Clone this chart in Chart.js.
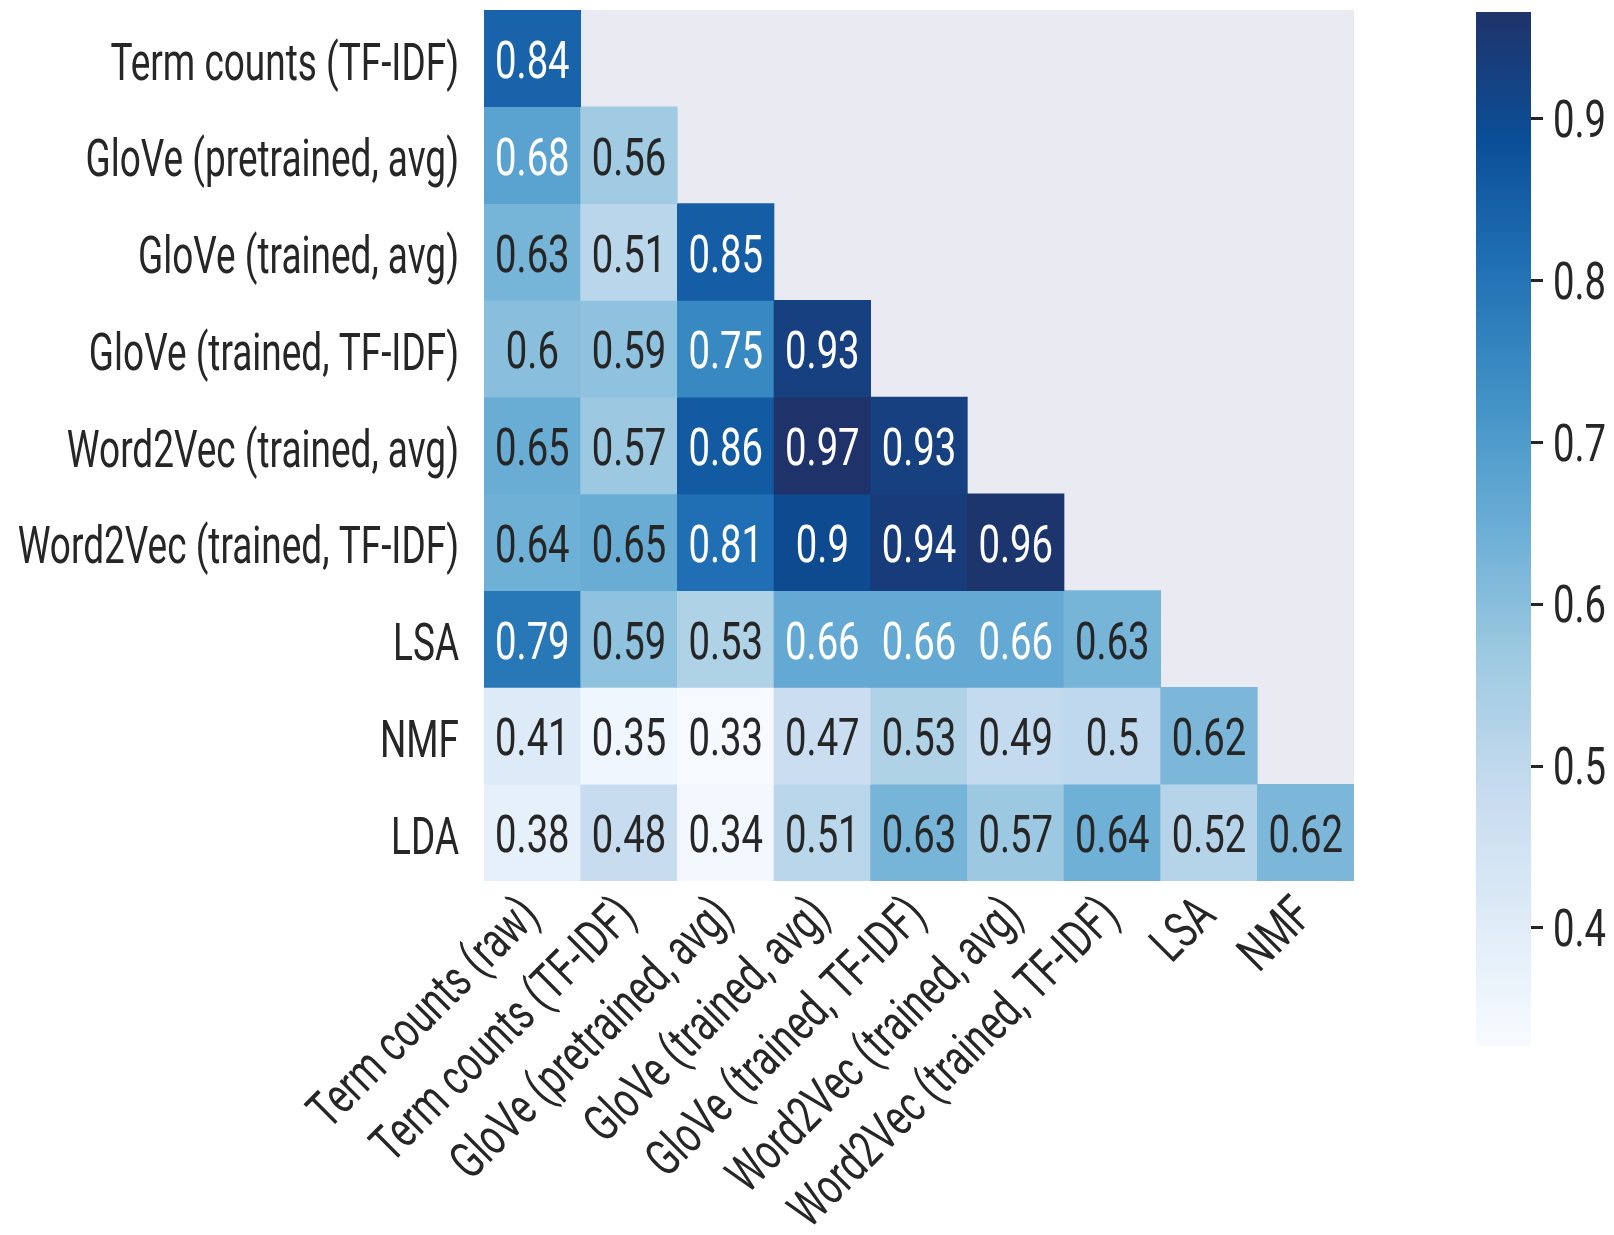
<!DOCTYPE html>
<html>
<head>
<meta charset="utf-8">
<script src="https://cdn.jsdelivr.net/npm/chart.js@4.4.1/dist/chart.umd.min.js"></script>
<style>
  html, body { margin: 0; padding: 0; background: #ffffff; width: 1614px; height: 1235px; overflow: hidden; }
  #heat { position: absolute; left: 0; top: 0; }
  #cbar { position: absolute; left: 1440px; top: 0; }
</style>
</head>
<body>
<canvas id="heat" width="1614" height="1235"></canvas>
<canvas id="cbar" width="174" height="1235"></canvas>
<script>
// Pairwise agreement between document representations (lower triangle).
const columnLabels = [
  'Term counts (raw)', 'Term counts (TF-IDF)', 'GloVe (pretrained, avg)',
  'GloVe (trained, avg)', 'GloVe (trained, TF-IDF)', 'Word2Vec (trained, avg)',
  'Word2Vec (trained, TF-IDF)', 'LSA', 'NMF'
];
const rowLabels = [
  'Term counts (TF-IDF)', 'GloVe (pretrained, avg)', 'GloVe (trained, avg)',
  'GloVe (trained, TF-IDF)', 'Word2Vec (trained, avg)', 'Word2Vec (trained, TF-IDF)',
  'LSA', 'NMF', 'LDA'
];
const rowTermTfidf   = [0.84];
const rowGlovePre    = [0.68, 0.56];
const rowGloveAvg    = [0.63, 0.51, 0.85];
const rowGloveTfidf  = [0.6, 0.59, 0.75, 0.93];
const rowW2vAvg      = [0.65, 0.57, 0.86, 0.97, 0.93];
const rowW2vTfidf    = [0.64, 0.65, 0.81, 0.9, 0.94, 0.96];
const rowLsa         = [0.79, 0.59, 0.53, 0.66, 0.66, 0.66, 0.63];
const rowNmf         = [0.41, 0.35, 0.33, 0.47, 0.53, 0.49, 0.5, 0.62];
const rowLda         = [0.38, 0.48, 0.34, 0.51, 0.63, 0.57, 0.64, 0.52, 0.62];
const matrixRows = [rowTermTfidf, rowGlovePre, rowGloveAvg, rowGloveTfidf,
                    rowW2vAvg, rowW2vTfidf, rowLsa, rowNmf, rowLda];
const colorbarTicks = [0.4, 0.5, 0.6, 0.7, 0.8, 0.9];
// Colour-scale limits (unrounded extremes of the matrix)
const colorLimits = [0.327, 0.966];

const [vMin, vMax] = colorLimits;

// Sequential blue colour map (light to dark)
const BLUES = ['#f7fbff', '#deebf7', '#c6dbef', '#9ecae1', '#6baed6',
               '#4292c6', '#2171b5', '#0b4f98', '#1f336a'];
const hexToRgb = h => [1, 3, 5].map(i => parseInt(h.slice(i, i + 2), 16));
const BLUES_RGB = BLUES.map(hexToRgb);

function colorRgb(v) {
  let t = (v - vMin) / (vMax - vMin);
  t = Math.max(0, Math.min(1, t));
  const pos = t * (BLUES_RGB.length - 1);
  const i = Math.min(Math.floor(pos), BLUES_RGB.length - 2);
  const f = pos - i;
  return BLUES_RGB[i].map((c, k) => Math.round(c + (BLUES_RGB[i + 1][k] - c) * f));
}
const colorFor = v => { const [r, g, b] = colorRgb(v); return `rgb(${r},${g},${b})`; };

function luminance([r, g, b]) {
  const lin = c => { c /= 255; return c <= 0.03928 ? c / 12.92 : Math.pow((c + 0.055) / 1.055, 2.4); };
  return 0.2126 * lin(r) + 0.7152 * lin(g) + 0.0722 * lin(b);
}
const textColorFor = v => luminance(colorRgb(v)) > 0.372 ? '#262626' : '#ffffff';

const FONT = "Roboto, 'Liberation Sans', sans-serif";
const FONT_SIZE = 51;
const CAP_HEIGHT = 0.711;   // Roboto cap / figure height in em
const INK = '#262626';
Chart.defaults.font.family = FONT;
Chart.defaults.font.size = FONT_SIZE;
Chart.defaults.color = INK;

// Narrow lettering: squeeze every string horizontally about its anchor point,
// and centre upright labels on their capitals rather than on the em box.
function condenseText(ctx, state) {
  const draw = ctx.fillText.bind(ctx);
  ctx.fillText = function (text, x, y, maxWidth) {
    const k = state.factor;
    const m = ctx.getTransform();
    ctx.save();
    if (Math.abs(m.b) < 1e-6 && ctx.textBaseline === 'middle') {
      const size = parseFloat(/(\d+(?:\.\d+)?)px/.exec(ctx.font)[1]);
      ctx.textBaseline = 'alphabetic';
      y += size * CAP_HEIGHT / 2 + state.dy;
    }
    ctx.translate(x, y);
    ctx.scale(k, 1);
    if (maxWidth !== undefined) draw(text, 0, 0, maxWidth / k);
    else draw(text, 0, 0);
    ctx.restore();
  };
}
const LABEL_SQUEEZE = 0.725;
const NUMBER_SQUEEZE = 0.75;
const heatText = { factor: LABEL_SQUEEZE, dy: 3 };
const cbarText = { factor: NUMBER_SQUEEZE, dy: 0 };
const heatCanvas = document.getElementById('heat');
const cbarCanvas = document.getElementById('cbar');
condenseText(heatCanvas.getContext('2d'), heatText);
condenseText(cbarCanvas.getContext('2d'), cbarText);

// Grey face behind the masked upper triangle
const axesFace = {
  id: 'axesFace',
  beforeDatasetsDraw(chart) {
    const { ctx, chartArea: a } = chart;
    ctx.save();
    ctx.fillStyle = '#eaeaf2';
    ctx.fillRect(a.left, a.top, a.right - a.left, a.bottom - a.top);
    ctx.restore();
  }
};

// Value printed in the middle of each cell
const cellLabels = {
  id: 'cellLabels',
  afterDatasetsDraw(chart) {
    const ctx = chart.ctx;
    ctx.save();
    heatText.factor = NUMBER_SQUEEZE;
    heatText.dy = 1.5;
    ctx.font = `${FONT_SIZE}px ${FONT}`;
    ctx.textAlign = 'center';
    ctx.textBaseline = 'middle';
    chart.data.datasets.forEach((ds, di) => {
      chart.getDatasetMeta(di).data.forEach((el, i) => {
        const v = ds.values[i];
        if (v == null) return;
        const p = el.getProps(['x', 'y', 'base'], true);
        ctx.fillStyle = textColorFor(v);
        ctx.fillText(String(v), p.x, (p.y + p.base) / 2);
      });
    });
    heatText.factor = LABEL_SQUEEZE;
    heatText.dy = 3;
    ctx.restore();
  }
};

// One floating-bar dataset per row: each cell spans [row, row + 1] on the row axis
const heatDatasets = matrixRows.map((row, r) => ({
  label: rowLabels[r],
  data: columnLabels.map((_, c) => (c < row.length ? [r, r + 1] : null)),
  values: row,
  backgroundColor: row.map(colorFor),
  borderWidth: 0,
  grouped: false,
  barPercentage: 1,
  categoryPercentage: 1
}));

new Chart(heatCanvas, {
  type: 'bar',
  data: { labels: columnLabels, datasets: heatDatasets },
  options: {
    responsive: false,
    animation: false,
    devicePixelRatio: 1,
    layout: { padding: { top: 10, right: 260, left: 0, bottom: 0 } },
    plugins: { legend: { display: false }, tooltip: { enabled: false } },
    scales: {
      x: {
        type: 'category',
        grid: { display: false, drawTicks: false },
        border: { display: false },
        ticks: { autoSkip: false, minRotation: 45, maxRotation: 45, padding: 6, color: INK },
        afterFit(scale) { scale.height = 354; }
      },
      y: {
        type: 'linear',
        min: 0,
        max: rowLabels.length,
        reverse: true,
        grid: { display: false, drawTicks: false },
        border: { display: false },
        afterBuildTicks(scale) { scale.ticks = rowLabels.map((_, i) => ({ value: i + 0.5 })); },
        ticks: { autoSkip: false, padding: 25, color: INK, callback: (v, i) => rowLabels[i] },
        afterFit(scale) { scale.width = 484; scale.paddingTop = 0; scale.paddingBottom = 0; }
      }
    }
  },
  plugins: [axesFace, cellLabels]
});

// Colour bar: a single floating bar spanning the colour range, painted with the map
new Chart(cbarCanvas, {
  type: 'bar',
  data: {
    labels: [''],
    datasets: [{
      data: [[vMin, vMax]],
      borderWidth: 0,
      barPercentage: 1,
      categoryPercentage: 1,
      backgroundColor(ctx) {
        const chart = ctx.chart;
        if (!chart.chartArea) return BLUES[4];
        const ys = chart.scales.y;
        const g = chart.ctx.createLinearGradient(0, ys.getPixelForValue(vMin), 0, ys.getPixelForValue(vMax));
        BLUES.forEach((c, i) => g.addColorStop(i / (BLUES.length - 1), c));
        return g;
      }
    }]
  },
  options: {
    responsive: false,
    animation: false,
    devicePixelRatio: 1,
    layout: { padding: { top: 12, bottom: 189, left: 36, right: 0 } },
    plugins: { legend: { display: false }, tooltip: { enabled: false } },
    scales: {
      x: { display: false },
      y: {
        type: 'linear',
        position: 'right',
        min: vMin,
        max: vMax,
        border: { display: false },
        grid: { drawOnChartArea: false, drawTicks: true, tickLength: 12, tickWidth: 3, tickColor: INK },
        afterBuildTicks(scale) { scale.ticks = colorbarTicks.map(v => ({ value: v })); },
        ticks: { padding: 10, color: INK, callback: v => v.toFixed(1) },
        afterFit(scale) { scale.width = 83; scale.paddingTop = 0; scale.paddingBottom = 0; }
      }
    }
  }
});
</script>
</body>
</html>
